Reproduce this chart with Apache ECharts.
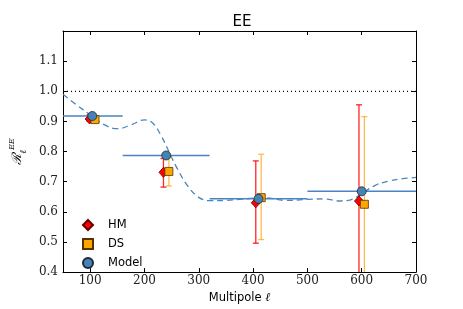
<!DOCTYPE html>
<html><head><meta charset="utf-8">
<script src="https://cdn.jsdelivr.net/npm/echarts@6/dist/echarts.min.js"></script>
<style>html,body{margin:0;padding:0;background:#fff}#c{width:463px;height:309px}</style>
</head><body><div id="c"></div>
<script>
const xTicks = [100, 200, 300, 400, 500, 600, 700];
const yTicks = [0.4, 0.5, 0.6, 0.7, 0.8, 0.9, 1.0, 1.1];

const hmL  = [99, 235, 405, 595];
const hmV  = [0.908, 0.731, 0.630, 0.636];
const hmLo = [0.900, 0.682, 0.496, 0.30];
const hmHi = [0.922, 0.777, 0.769, 0.955];

const dsL  = [109, 245, 415, 605];
const dsV  = [0.906, 0.734, 0.647, 0.625];
const dsLo = [0.897, 0.686, 0.508, 0.30];
const dsHi = [0.918, 0.779, 0.791, 0.916];

const modelL  = [104, 240, 410, 600];
const modelV  = [0.918, 0.787, 0.643, 0.668];
const binLo   = [50, 160, 320, 500];
const binHi   = [160, 320, 500, 700];

const curveL = [50, 75, 100, 125, 150, 175, 200, 215, 230, 245, 260, 280, 300, 320, 350, 380, 420, 460, 500, 530, 560, 580, 600, 625, 650, 675, 700];
const curveV = [0.990, 0.955, 0.922, 0.890, 0.876, 0.888, 0.905, 0.895, 0.855, 0.800, 0.745, 0.685, 0.648, 0.637, 0.638, 0.642, 0.647, 0.638, 0.641, 0.643, 0.636, 0.640, 0.660, 0.688, 0.702, 0.710, 0.714];

const refLine = [[50, 1.0], [700, 1.0]];

function errBar(color) {
  return function (params, api) {
    const x = api.value(0), lo = api.value(1), hi = api.value(2);
    const p1 = api.coord([x, lo]), p2 = api.coord([x, hi]);
    const st = { stroke: color, lineWidth: 1.3 };
    return { type: 'group', children: [
      { type: 'line', shape: { x1: p1[0], y1: p1[1], x2: p2[0], y2: p2[1] }, style: st },
      { type: 'line', shape: { x1: p1[0] - 3, y1: p1[1], x2: p1[0] + 3, y2: p1[1] }, style: st },
      { type: 'line', shape: { x1: p2[0] - 3, y1: p2[1], x2: p2[0] + 3, y2: p2[1] }, style: st }
    ]};
  };
}

const chart = echarts.init(document.getElementById('c'));
const serif = 'DejaVu Serif';
const sans = 'DejaVu Sans';
const axCommon = {
  type: 'value',
  axisLine: { show: true, lineStyle: { color: '#000', width: 1 } },
  splitLine: { show: false },
};
chart.setOption({
  animation: false,
  backgroundColor: '#fff',
  title: { text: 'EE', left: 237, textAlign: 'center', top: 10,
    textStyle: { fontFamily: sans, fontSize: 15, fontWeight: 'normal', color: '#000' } },
  grid: { left: 58, right: 47, top: 31, bottom: 31 },
  legend: {
    orient: 'vertical', left: 77, top: 213, itemWidth: 10, itemHeight: 10, itemGap: 5,
    data: [{ name: 'HM', icon: 'diamond' }, { name: 'DS', icon: 'rect' }, { name: 'Model', icon: 'circle' }],
    textStyle: { fontFamily: sans, fontSize: 11.5, color: '#000', padding: [0, 0, 0, 10], lineHeight: 14 }
  },
  xAxis: [
    Object.assign({}, axCommon, {
      min: 50, max: 700, position: 'bottom',
      axisTick: { inside: true, length: 4, customValues: xTicks, lineStyle: { color: '#000' } },
      axisLabel: { customValues: xTicks, fontFamily: serif, fontSize: 12, color: '#222', margin: 3 },
      name: '{a|Multipole }{b|ℓ}', nameLocation: 'middle', nameGap: 17,
      nameTextStyle: { rich: { a: { fontFamily: sans, fontSize: 11.5, color: '#000' }, b: { fontFamily: serif, fontStyle: 'italic', fontSize: 12, color: '#000' } } }
    }),
    Object.assign({}, axCommon, {
      min: 50, max: 700, position: 'top',
      axisTick: { inside: true, length: 4, customValues: xTicks, lineStyle: { color: '#000' } },
      axisLabel: { show: false }
    })
  ],
  yAxis: [
    Object.assign({}, axCommon, {
      min: 0.4, max: 1.2, position: 'left',
      axisTick: { inside: true, length: 4, customValues: yTicks, lineStyle: { color: '#000' } },
      axisLabel: { customValues: yTicks, fontFamily: serif, fontSize: 12, color: '#222', margin: 5,
        formatter: v => v.toFixed(1) },
      name: '{r|ℛ}{s|ℓ}{e|EE}', nameLocation: 'middle', nameRotate: 90, nameGap: 30,
      nameTextStyle: { rich: {
        r: { fontFamily: serif, fontStyle: 'italic', fontSize: 13, color: '#000', lineHeight: 20 },
        s: { fontFamily: serif, fontStyle: 'italic', fontSize: 9, color: '#000', verticalAlign: 'bottom', lineHeight: 20 },
        e: { fontFamily: serif, fontStyle: 'italic', fontSize: 8, color: '#000', verticalAlign: 'top', lineHeight: 20 }
      } }
    }),
    Object.assign({}, axCommon, {
      min: 0.4, max: 1.2, position: 'right',
      axisTick: { inside: true, length: 4, customValues: yTicks, lineStyle: { color: '#000' } },
      axisLabel: { show: false }
    })
  ],
  series: [
    { name: 'curve', type: 'line', data: curveL.map((l, i) => [l, curveV[i]]), smooth: 0.4,
      showSymbol: false, silent: true, lineStyle: { color: '#4a85bf', width: 1.3, type: [6, 4] }, z: 2 },
    { name: 'ref', type: 'line', data: refLine, showSymbol: false, silent: true,
      lineStyle: { color: '#000', width: 1.3, type: [1, 3] }, z: 2 },
    { name: 'bins', type: 'custom', clip: true, z: 3,
      data: binLo.map((lo, i) => [lo, binHi[i], modelV[i]]),
      renderItem: (params, api) => {
        const p1 = api.coord([api.value(0), api.value(2)]), p2 = api.coord([api.value(1), api.value(2)]);
        return { type: 'line', shape: { x1: p1[0], y1: p1[1], x2: p2[0], y2: p2[1] },
          style: { stroke: '#4a85bf', lineWidth: 1.5 } };
      } },
    { name: 'hmErr', type: 'custom', clip: true, z: 4,
      data: hmL.map((l, i) => [l, hmLo[i], hmHi[i]]), renderItem: errBar('rgba(255,0,0,0.85)') },
    { name: 'dsErr', type: 'custom', clip: true, z: 4,
      data: dsL.map((l, i) => [l, dsLo[i], dsHi[i]]), renderItem: errBar('rgba(255,170,40,0.8)') },
    { name: 'HM', type: 'scatter', symbol: 'diamond', symbolSize: [9, 10], z: 5,
      data: hmL.map((l, i) => [l, hmV[i]]),
      itemStyle: { color: '#ff0000', borderColor: '#600', borderWidth: 0.8, opacity: 1 } },
    { name: 'DS', type: 'scatter', symbol: 'rect', symbolSize: 8, z: 5,
      data: dsL.map((l, i) => [l, dsV[i]]),
      itemStyle: { color: '#ffa500', borderColor: '#553300', borderWidth: 0.8, opacity: 1 } },
    { name: 'Model', type: 'scatter', symbol: 'circle', symbolSize: 9, z: 6,
      data: modelL.map((l, i) => [l, modelV[i]]),
      itemStyle: { color: '#4682b4', borderColor: '#1a2a3a', borderWidth: 0.8, opacity: 1 } }
  ]
});
</script></body></html>
